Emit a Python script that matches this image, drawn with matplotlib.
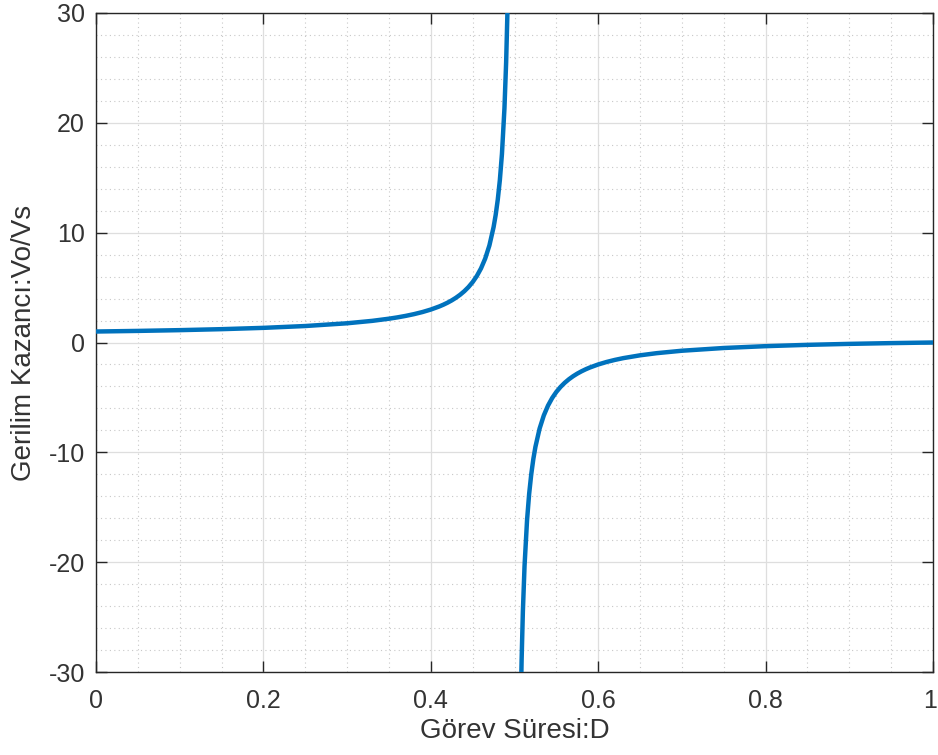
import matplotlib
matplotlib.use("Agg")
import matplotlib.pyplot as plt
from matplotlib.ticker import MultipleLocator
from matplotlib.transforms import ScaledTranslation

# Left branch (D < 0.5): duty cycle and voltage gain
d_left = [0.0, 0.05, 0.1, 0.15, 0.2, 0.25, 0.3, 0.33, 0.35, 0.36, 0.37, 0.38, 0.39,
          0.40, 0.41, 0.415, 0.42, 0.425, 0.43, 0.435, 0.44, 0.445, 0.45, 0.455,
          0.46, 0.465, 0.47, 0.475, 0.4775, 0.48, 0.4825, 0.485, 0.488, 0.49,
          0.4915, 0.4925]
g_left = [1.0, 1.0556, 1.125, 1.2143, 1.3333, 1.5, 1.75, 1.9706, 2.1667, 2.2857,
          2.4231, 2.5833, 2.7727, 3.0, 3.2778, 3.4412, 3.625, 3.8333, 4.0714,
          4.3462, 4.6667, 5.0455, 5.5, 6.0556, 6.75, 7.643, 8.833, 10.5, 11.611,
          13.0, 14.786, 17.167, 21.333, 25.5, 29.91, 33.83]

# Right branch (D > 0.5)
d_right = [0.5075, 0.5085, 0.51, 0.512, 0.515, 0.5175, 0.52, 0.5225, 0.525, 0.53,
           0.535, 0.54, 0.545, 0.55, 0.555, 0.56, 0.565, 0.57, 0.575, 0.58, 0.585,
           0.59, 0.6, 0.61, 0.62, 0.63, 0.65, 0.67, 0.7, 0.75, 0.8, 0.85, 0.9,
           0.95, 1.0]
g_right = [-32.83, -28.91, -24.5, -20.333, -16.167, -13.786, -12.0, -10.611, -9.5,
           -7.8333, -6.6429, -5.75, -5.0556, -4.5, -4.0455, -3.6667, -3.3462,
           -3.0714, -2.8333, -2.625, -2.4412, -2.2778, -2.0, -1.7727, -1.5833,
           -1.4231, -1.1667, -0.9706, -0.75, -0.5, -0.3333, -0.2143, -0.125,
           -0.0556, 0.0]

x_ticks = [0, 0.2, 0.4, 0.6, 0.8, 1]
x_ticklabels = ["0", "0.2", "0.4", "0.6", "0.8", "1"]
y_ticks = [-30, -20, -10, 0, 10, 20, 30]
y_ticklabels = ["-30", "-20", "-10", "0", "10", "20", "30"]

plt.rcParams['font.family'] = ['Liberation Sans', 'DejaVu Sans']

fig = plt.figure(figsize=(9.38, 7.55), dpi=100)
ax = fig.add_axes([96/938, 1 - 672/755, (933 - 96)/938, (672 - 13)/755])

color = '#0072BD'
ax.plot(d_left, g_left, color=color, lw=3.2, solid_capstyle='butt', zorder=3)
ax.plot(d_right, g_right, color=color, lw=3.2, solid_capstyle='butt', zorder=3)

ax.set_xlim(0, 1)
ax.set_ylim(-30, 30)
ax.set_xticks(x_ticks)
ax.set_xticklabels(x_ticklabels)
ax.set_yticks(y_ticks)
ax.set_yticklabels(y_ticklabels)
ax.xaxis.set_minor_locator(MultipleLocator(0.05))
ax.yaxis.set_minor_locator(MultipleLocator(2))

ax.grid(which='major', color='#dedede', lw=0.9, ls='-', zorder=0)
ax.grid(which='minor', color='#c8c8c8', lw=0.8, ls=(0, (1, 3)), zorder=0)
ax.set_axisbelow(True)

text_color = '#333333'
ax.tick_params(which='major', direction='in', length=8, width=1.0, color='#262626',
               labelcolor=text_color, top=True, right=True, labelsize=18)
ax.tick_params(axis='x', which='major', pad=12)
ax.tick_params(axis='y', which='major', pad=8)
ax.tick_params(which='minor', length=0, top=True, right=True)
for s in ax.spines.values():
    s.set_color('#262626')
    s.set_linewidth(1.0)

# keep the last x tick label inside the figure edge
last = ax.get_xticklabels()[-1]
last.set_transform(last.get_transform() + ScaledTranslation(-3/100, 0, fig.dpi_scale_trans))

ax.set_xlabel('Görev Süresi:D', fontsize=20, color=text_color, labelpad=4)
ax.set_ylabel('Gerilim Kazancı:Vo/Vs', fontsize=20, color=text_color, labelpad=8)

fig.savefig('out.png', dpi=100)
